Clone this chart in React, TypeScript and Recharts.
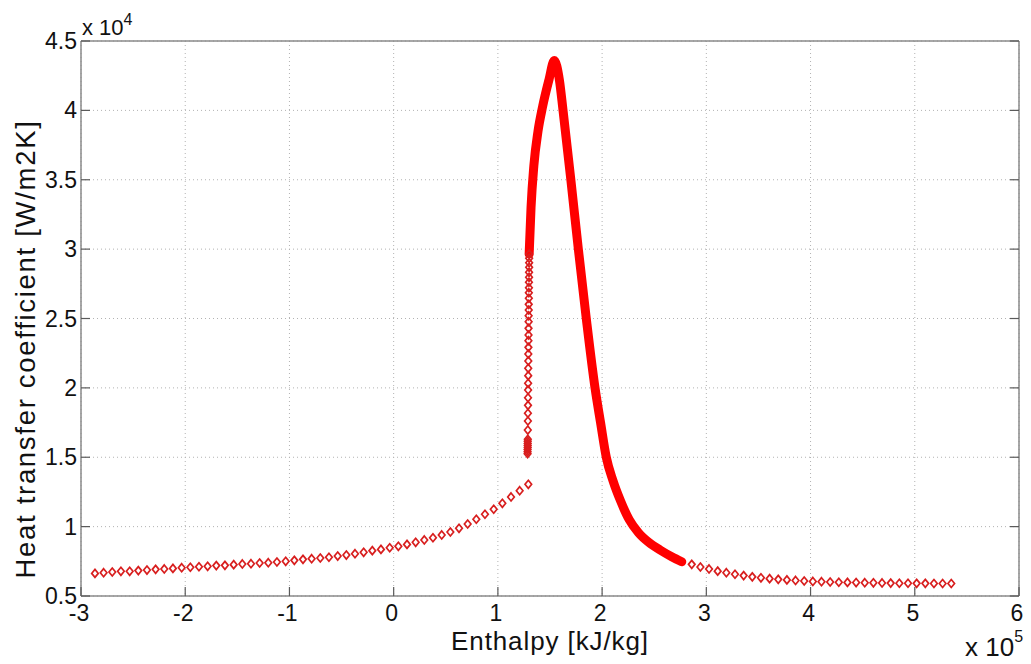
import React from "react";
import { ComposedChart, Scatter, Line, XAxis, YAxis, CartesianGrid } from "recharts";

// ── values (x in 1e5 kJ/kg, y in 1e4 W/m2K) ────────────────────────────────
const xTicks = [-3, -2, -1, 0, 1, 2, 3, 4, 5, 6];
const yTicks = [0.5, 1, 1.5, 2, 2.5, 3, 3.5, 4, 4.5];

// subcooled liquid branch (sparse markers)
const liquidX = [
  -2.866, -2.783, -2.7, -2.617, -2.533, -2.45, -2.367, -2.284, -2.201, -2.118,
  -2.034, -1.951, -1.868, -1.785, -1.702, -1.619, -1.535, -1.452, -1.369, -1.286,
  -1.203, -1.12, -1.036, -0.953, -0.87, -0.787, -0.704, -0.621, -0.537, -0.454,
  -0.371, -0.288, -0.205, -0.122, -0.038, 0.045, 0.128, 0.211, 0.294, 0.377,
  0.461, 0.544, 0.627, 0.71, 0.793, 0.876, 0.96, 1.043, 1.126, 1.209, 1.292,
];
const liquidY = [
  0.663, 0.668, 0.673, 0.678, 0.678, 0.683, 0.687, 0.692, 0.695, 0.699,
  0.704, 0.707, 0.711, 0.714, 0.719, 0.721, 0.726, 0.731, 0.733, 0.738,
  0.74, 0.745, 0.75, 0.757, 0.764, 0.769, 0.774, 0.779, 0.788, 0.795,
  0.805, 0.815, 0.827, 0.836, 0.848, 0.858, 0.872, 0.887, 0.904, 0.92,
  0.94, 0.961, 0.988, 1.019, 1.053, 1.089, 1.125, 1.168, 1.214, 1.259, 1.305,
];

// near-vertical column at the start of the pseudo-critical zone
const columnX = [
  1.285, 1.285, 1.285, 1.286, 1.286, 1.286, 1.286, 1.287, 1.287, 1.288,
  1.288, 1.289, 1.289, 1.29, 1.29, 1.291, 1.291, 1.292, 1.292, 1.293,
  1.293, 1.294, 1.294, 1.295, 1.295, 1.296, 1.296, 1.297, 1.297, 1.298,
  1.298, 1.299, 1.299, 1.3, 1.3, 1.3, 1.3,
];
const columnY = [
  1.525, 1.54, 1.555, 1.57, 1.585, 1.6, 1.615, 1.63, 1.696, 1.761,
  1.817, 1.874, 1.929, 1.985, 2.033, 2.088, 2.141, 2.194, 2.244, 2.292,
  2.34, 2.381, 2.429, 2.477, 2.52, 2.561, 2.602, 2.646, 2.686, 2.722,
  2.761, 2.797, 2.833, 2.869, 2.902, 2.934, 2.965,
];

// dense part of the curve, markers overlap into a solid band
const peakX = [
  1.3, 1.318, 1.345, 1.385, 1.43, 1.49, 1.541, 1.59, 1.625, 1.7,
  1.772, 1.848, 1.932, 1.985, 2.04, 2.105, 2.18, 2.26, 2.35, 2.45,
  2.56, 2.668, 2.764,
];
const peakY = [
  2.965, 3.3, 3.6, 3.85, 4.03, 4.22, 4.36, 4.22, 4.0, 3.5,
  3.0, 2.5, 2.0, 1.75, 1.5, 1.33, 1.18, 1.05, 0.955, 0.885,
  0.83, 0.783, 0.747,
];

// superheated gas branch (sparse markers)
const gasX = [
  2.86, 2.943, 3.026, 3.109, 3.192, 3.275, 3.358, 3.441, 3.524, 3.607,
  3.69, 3.773, 3.856, 3.939, 4.022, 4.105, 4.188, 4.271, 4.354, 4.437,
  4.52, 4.603, 4.686, 4.769, 4.852, 4.935, 5.018, 5.101, 5.184, 5.267, 5.35,
];
const gasY = [
  0.728, 0.709, 0.695, 0.679, 0.668, 0.657, 0.647, 0.638, 0.631, 0.625,
  0.62, 0.616, 0.612, 0.608, 0.605, 0.603, 0.601, 0.599, 0.598, 0.597,
  0.596, 0.595, 0.594, 0.593, 0.592, 0.592, 0.591, 0.591, 0.59, 0.59, 0.59,
];

const toPoints = (xs: number[], ys: number[]) => xs.map((x, i) => ({ x, y: ys[i] }));

const FONT = "'Liberation Sans', Arial, Helvetica, sans-serif";
const RED = "#ff0000";
const MARKER = "#d81e1e";
const AXIS = "#8a8a8a";
const TICK = "#5a5a5a";

// ── marker: hollow diamond like MATLAB 'd' ──────────────────────────────────
function Diamond(props: any) {
  const { cx, cy } = props;
  if (cx == null || cy == null) return null;
  return (
    <path
      d={`M${cx},${cy - 4}L${cx + 3.3},${cy}L${cx},${cy + 4}L${cx - 3.3},${cy}Z`}
      fill="none"
      stroke={MARKER}
      strokeWidth={1.7}
    />
  );
}

// ── ticks point into the box, labels sit outside ────────────────────────────
function BottomTick({ x, y, payload }: any) {
  return (
    <g>
      <line x1={x} x2={x} y1={y} y2={y - 9} stroke={TICK} strokeWidth={1.2} />
      <text x={x - 2} y={y + 25} textAnchor="middle" fontSize={23} fontFamily={FONT} fill="#111">
        {payload.value}
      </text>
    </g>
  );
}

function TopTick({ x, y }: any) {
  return <line x1={x} x2={x} y1={y} y2={y + 9} stroke={TICK} strokeWidth={1.2} />;
}

function LeftTick({ x, y, payload }: any) {
  return (
    <g>
      <line x1={x} x2={x + 9} y1={y} y2={y} stroke={TICK} strokeWidth={1.2} />
      <text x={x - 4} y={y + 8} textAnchor="end" fontSize={23} fontFamily={FONT} fill="#111">
        {payload.value}
      </text>
    </g>
  );
}

function RightTick({ x, y }: any) {
  return <line x1={x} x2={x - 9} y1={y} y2={y} stroke={TICK} strokeWidth={1.2} />;
}

const xTitle = () => (
  <g fontFamily={FONT} fill="#111">
    <text x={550} y={650} textAnchor="middle" fontSize={26} letterSpacing={0.9}>
      Enthalpy [kJ/kg]
    </text>
    <text x={965} y={656} fontSize={26}>
      x 10
      <tspan fontSize={16} dy={-14}>5</tspan>
    </text>
  </g>
);

const yTitle = () => (
  <g fontFamily={FONT} fill="#111">
    <text
      x={35}
      y={349}
      transform="rotate(-90 35 349)"
      textAnchor="middle"
      fontSize={27.5}
      letterSpacing={1.7}
    >
      Heat transfer coefficient [W/m2K]
    </text>
    <text x={82} y={35} fontSize={22}>
      x 10
      <tspan fontSize={16} dy={-10}>4</tspan>
    </text>
  </g>
);

export default function App() {
  return (
    <div style={{ position: "absolute", left: 0, top: 0, width: 1031, height: 664, background: "#fff" }}>
      <ComposedChart width={1031} height={664} margin={{ top: 40, right: 11, bottom: 28, left: 11 }}>
        <CartesianGrid stroke="#b2b2b2" strokeDasharray="1 3" />
        <XAxis
          type="number"
          dataKey="x"
          domain={[-3, 6]}
          ticks={xTicks}
          allowDataOverflow
          height={40}
          tickSize={0}
          tickMargin={0}
          tickLine={false}
          tick={<BottomTick />}
          axisLine={{ stroke: AXIS, strokeWidth: 1.5 }}
          label={xTitle}
        />
        <XAxis
          xAxisId="top"
          orientation="top"
          type="number"
          domain={[-3, 6]}
          ticks={xTicks}
          allowDataOverflow
          height={1}
          tickSize={0}
          tickMargin={0}
          tickLine={false}
          tick={<TopTick />}
          axisLine={{ stroke: AXIS, strokeWidth: 1.5 }}
        />
        <YAxis
          type="number"
          dataKey="y"
          domain={[0.5, 4.5]}
          ticks={yTicks}
          allowDataOverflow
          width={70}
          tickSize={0}
          tickMargin={0}
          tickLine={false}
          tick={<LeftTick />}
          axisLine={{ stroke: AXIS, strokeWidth: 1.5 }}
          label={yTitle}
        />
        <YAxis
          yAxisId="right"
          orientation="right"
          type="number"
          domain={[0.5, 4.5]}
          ticks={yTicks}
          allowDataOverflow
          width={1}
          tickSize={0}
          tickMargin={0}
          tickLine={false}
          tick={<RightTick />}
          axisLine={{ stroke: AXIS, strokeWidth: 1.5 }}
        />
        <Line
          data={toPoints(peakX, peakY)}
          dataKey="y"
          type="monotone"
          stroke={RED}
          strokeWidth={9}
          strokeLinecap="round"
          strokeLinejoin="round"
          dot={false}
          activeDot={false}
          isAnimationActive={false}
        />
        <Scatter data={toPoints(liquidX, liquidY)} dataKey="y" shape={Diamond} isAnimationActive={false} />
        <Scatter data={toPoints(columnX, columnY)} dataKey="y" shape={Diamond} isAnimationActive={false} />
        <Scatter data={toPoints(gasX, gasY)} dataKey="y" shape={Diamond} isAnimationActive={false} />
      </ComposedChart>
    </div>
  );
}
